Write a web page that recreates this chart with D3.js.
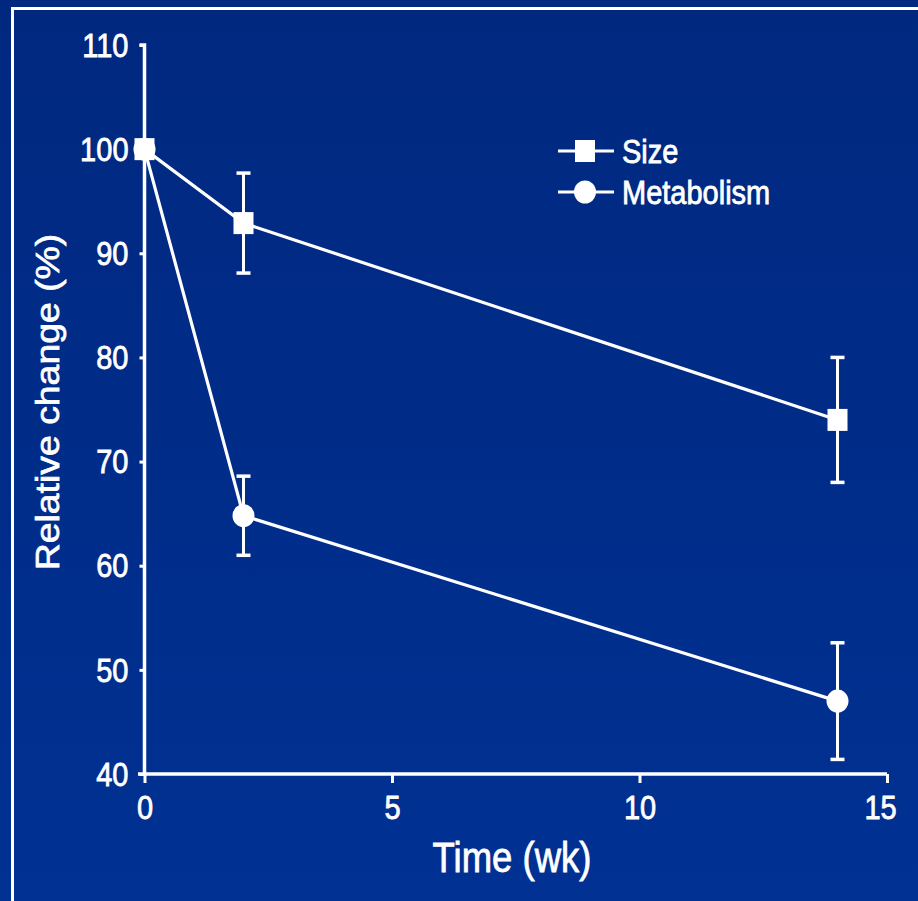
<!DOCTYPE html>
<html><head><meta charset="utf-8">
<script src="https://cdn.jsdelivr.net/npm/d3@7/dist/d3.min.js"></script>
<style>html,body{margin:0;padding:0;background:#002c86;}svg{display:block;}</style>
</head><body>
<script>
const weeks = [0, 2, 14];
const sizeMean = [100, 92.9, 74.0];
const sizeErr = [0, 4.8, 6.0];
const metabMean = [100, 64.8, 47.0];
const metabErr = [0, 3.8, 5.6];
const xTicks = [0, 5, 10, 15];
const yTicks = [40, 50, 60, 70, 80, 90, 100, 110];
const seriesNames = ["Size", "Metabolism"];

const W = 918, H = 901;
const svg = d3.select("body").append("svg").attr("width", W).attr("height", H);
const defs = svg.append("defs");
const grad = defs.append("linearGradient").attr("id","bg").attr("x1",0).attr("y1",0).attr("x2",0).attr("y2",1);
grad.append("stop").attr("offset","0%").attr("stop-color","#00287f");
grad.append("stop").attr("offset","100%").attr("stop-color","#003193");
svg.append("rect").attr("width",W).attr("height",H).attr("fill","url(#bg)");
// slide frame
svg.append("path").attr("d","M12.5," + H + " V8.5 H" + W).attr("fill","none").attr("stroke","#fff").attr("stroke-width",3);

const x = d3.scaleLinear().domain([0, 15]).range([144.5, 887]);
const y = d3.scaleLinear().domain([40, 110]).range([774, 45]);
const white = "#ffffff";
const font = "'Liberation Sans', Arial, sans-serif";
const SY = 1.15;
const TS = 0.7; // text stroke to thicken glyphs

// axes
const yAxis = svg.append("g").attr("transform","translate(144.5,0)")
  .call(d3.axisLeft(y).tickValues(yTicks).tickSize(5).tickPadding(11));
const xAxis = svg.append("g").attr("transform","translate(0,774)")
  .call(d3.axisBottom(x).tickValues(xTicks).tickSize(9).tickPadding(12));
[yAxis, xAxis].forEach(g => {
  g.select(".domain").attr("stroke", white).attr("stroke-width", 3.5);
  g.selectAll(".tick line").attr("stroke", white).attr("stroke-width", 3);
  g.selectAll(".tick text").attr("fill", white).attr("stroke", white).attr("stroke-width", TS)
    .attr("font-family", font).attr("font-size", 29);
});
yAxis.select(".domain").attr("d", "M-5,45H0V774");
xAxis.select(".domain").attr("d", "M138,0H887");
yAxis.selectAll(".tick text").attr("dy", null).attr("dominant-baseline","central").attr("y", 0)
  .attr("transform", "scale(1," + SY + ")");
xAxis.selectAll(".tick text").attr("dy", null).attr("dominant-baseline","hanging").attr("y", 0)
  .attr("transform", "translate(0,21) scale(1," + SY + ")");
xAxis.selectAll(".tick").filter(d => d === 15).select("text").attr("transform","translate(-7,21) scale(1," + SY + ")");

// axis titles
svg.append("text").attr("transform","translate(512,872) scale(1," + SY + ")")
  .attr("text-anchor","middle").attr("fill",white).attr("stroke",white).attr("stroke-width",TS)
  .attr("font-family",font).attr("font-size",36.5).text("Time (wk)");
svg.append("text").attr("transform","translate(59,402) scale(1," + SY + ") rotate(-90)")
  .attr("text-anchor","middle").attr("fill",white).attr("stroke",white).attr("stroke-width",TS)
  .attr("font-family",font).attr("font-size",32.5).text("Relative change (%)");

function drawSeries(means, errs, shape) {
  const pts = weeks.map((w,i) => ({w, m: means[i], e: errs[i]}));
  const line = d3.line().x(d => x(d.w)).y(d => y(d.m));
  svg.append("path").datum(pts).attr("d", line).attr("fill","none").attr("stroke",white).attr("stroke-width",3.2);
  const eb = svg.append("g");
  pts.filter(d => d.e > 0).forEach(d => {
    eb.append("line").attr("x1",x(d.w)).attr("x2",x(d.w)).attr("y1",y(d.m+d.e)).attr("y2",y(d.m-d.e)).attr("stroke",white).attr("stroke-width",3);
    [d.m+d.e, d.m-d.e].forEach(v => {
      eb.append("line").attr("x1",x(d.w)-7).attr("x2",x(d.w)+7).attr("y1",y(v)).attr("y2",y(v)).attr("stroke",white).attr("stroke-width",3.5);
    });
  });
  drawMarkers(pts.map(d => [x(d.w), y(d.m)]), shape);
}
function drawMarkers(coords, shape) {
  coords.forEach(([cx, cy]) => {
    if (shape === "square") {
      svg.append("rect").attr("x",cx-10).attr("y",cy-11).attr("width",20).attr("height",22).attr("fill",white);
    } else {
      svg.append("ellipse").attr("cx",cx).attr("cy",cy).attr("rx",11).attr("ry",11.5).attr("fill",white);
    }
  });
}
drawSeries(metabMean, metabErr, "circle");
drawSeries(sizeMean, sizeErr, "square");

// legend
const legendY = [151, 192];
const shapes = ["square", "circle"];
seriesNames.forEach((name, i) => {
  const ly = legendY[i];
  svg.append("line").attr("x1",558).attr("x2",614).attr("y1",ly).attr("y2",ly).attr("stroke",white).attr("stroke-width",3.2);
  drawMarkers([[585, ly]], shapes[i]);
  svg.append("text").attr("transform","translate(622," + (ly+12) + ") scale(1," + SY + ")")
    .attr("fill",white).attr("stroke",white).attr("stroke-width",TS)
    .attr("font-family",font).attr("font-size",29).text(name);
});
</script>
</body></html>
